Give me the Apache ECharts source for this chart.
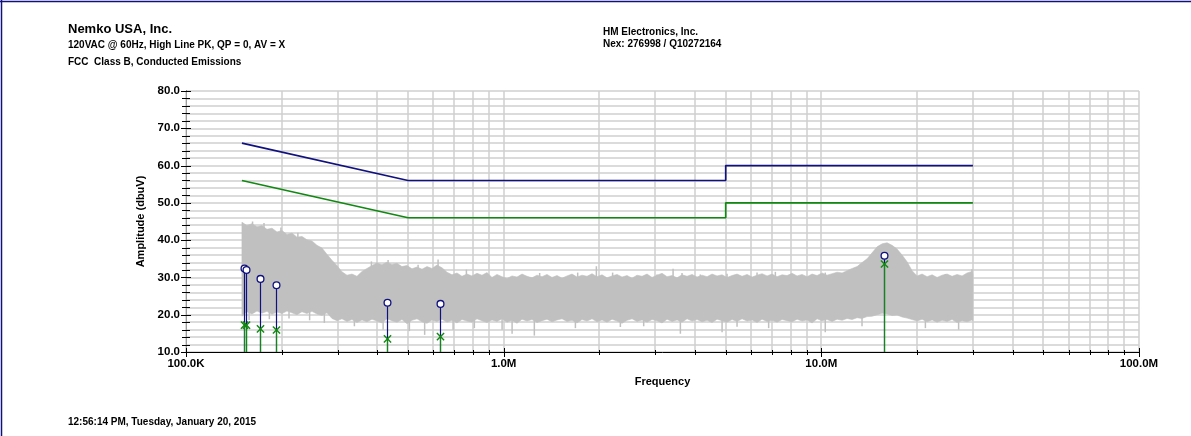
<!DOCTYPE html>
<html>
<head>
<meta charset="utf-8">
<script src="https://cdn.jsdelivr.net/npm/echarts@6/dist/echarts.min.js"></script>
<style>
html,body{margin:0;padding:0;background:#fff;}
#chart{width:1191px;height:436px;}
</style>
</head>
<body>
<div id="chart"></div>
<script>
// ---------- DATA ----------
const xTickLabels = ['100.0K', '1.0M', '10.0M', '100.0M'];
const xDecades = [1e5, 1e6, 1e7, 1e8];

// Limit lines (frequency in MHz)
const limitFreqMHz = [0.15, 0.5, 5, 5, 30];
const qpLimit = [66, 56, 56, 60, 60];
const avLimit = [56, 46, 46, 50, 50];

// Measured markers
const markerFreqMHz = [0.152, 0.155, 0.1715, 0.1926, 0.428, 0.630, 15.75];
const peakValues = [32.4, 32.0, 29.6, 27.9, 23.2, 22.9, 35.8];
const avgValues = [17.2, 17.2, 16.2, 15.9, 13.5, 14.1, 33.6];

// Spectrum scan envelope (MHz, dBuV)
const scanFreqMHz = [
  0.1500, 0.1555, 0.1613, 0.1673, 0.1734, 0.1798, 0.1865, 0.1934, 0.2005, 0.2079,
  0.2156, 0.2235, 0.2318, 0.2403, 0.2492, 0.2584, 0.2679, 0.2778, 0.2881, 0.2987,
  0.3097, 0.3212, 0.3330, 0.3453, 0.3581, 0.3713, 0.3850, 0.3992, 0.4139, 0.4292,
  0.4451, 0.4615, 0.4785, 0.4962, 0.5145, 0.5335, 0.5532, 0.5736, 0.5948, 0.6167,
  0.6395, 0.6631, 0.6876, 0.7130, 0.7393, 0.7666, 0.7949, 0.8242, 0.8546, 0.8862,
  0.9189, 0.9528, 0.9880, 1.0245, 1.0623, 1.1015, 1.1422, 1.1843, 1.2280, 1.2734,
  1.3204, 1.3691, 1.4197, 1.4721, 1.5264, 1.5828, 1.6412, 1.7018, 1.7646, 1.8298,
  1.8973, 1.9674, 2.0400, 2.1153, 2.1934, 2.2744, 2.3583, 2.4454, 2.5357, 2.6293,
  2.7263, 2.8270, 2.9313, 3.0395, 3.1517, 3.2681, 3.3887, 3.5138, 3.6435, 3.7780,
  3.9175, 4.0621, 4.2121, 4.3676, 4.5288, 4.6960, 4.8693, 5.0491, 5.2355, 5.4287,
  5.6291, 5.8369, 6.0524, 6.2758, 6.5075, 6.7477, 6.9968, 7.2551, 7.5229, 7.8006,
  8.0886, 8.3872, 8.6968, 9.0178, 9.3507, 9.6959, 10.054, 10.425, 10.810, 11.209,
  11.623, 12.052, 12.497, 12.958, 13.436, 13.932, 14.446, 14.979, 15.532, 16.105,
  16.700, 17.316, 17.955, 18.618, 19.305, 20.018, 20.757, 21.523, 22.318, 23.142,
  23.996, 24.882, 25.800, 26.752, 27.740, 28.764, 29.826, 30.0
];
const scanHigh = [
  44.8, 43.9, 44.4, 43.6, 43.9, 42.9, 43.2, 42.2, 42.6, 41.5,
  41.9, 40.8, 41.0, 40.1, 39.8, 38.6, 37.9, 36.2, 34.6, 33.2,
  31.5, 30.6, 30.9, 30.3, 31.6, 32.4, 33.2, 33.9, 33.4, 34.1,
  33.5, 33.8, 32.9, 33.2, 32.3, 32.8, 32.2, 32.9, 32.4, 33.3,
  32.6, 31.4, 30.7, 31.2, 30.3, 30.9, 30.4, 31.1, 30.6, 31.3,
  30.0, 30.8, 30.2, 29.7, 30.4, 30.1, 30.9, 30.3, 29.9, 30.6,
  30.2, 30.8, 30.0, 30.5, 29.8, 30.4, 30.9, 30.1, 30.6, 30.3,
  31.0, 30.2, 30.7, 29.9, 30.4, 30.8, 30.1, 30.5, 29.8, 30.6,
  30.3, 30.9, 30.0, 30.6, 31.1, 30.2, 30.5, 29.9, 30.7, 30.3,
  30.8, 30.1, 30.6, 30.2, 30.9, 30.4, 30.7, 30.0, 30.5, 30.9,
  30.3, 30.8, 30.1, 30.6, 31.0, 30.4, 30.9, 30.2, 30.7, 30.5,
  31.1, 30.4, 30.8, 30.2, 30.9, 30.5, 31.2, 30.6, 31.0, 31.4,
  31.2, 31.8, 32.4, 32.9, 34.0, 35.0, 36.6, 38.2, 39.0, 39.3,
  38.6, 37.6, 36.0, 34.2, 31.8, 30.4, 30.9, 30.2, 30.7, 30.0,
  30.6, 30.9, 30.3, 30.8, 30.4, 31.2, 31.6, 30.8
];
const scanLow = [
  19.6, 20.8, 20.2, 21.0, 20.4, 20.9, 20.1, 20.7, 20.3, 21.0,
  20.5, 20.0, 20.8, 20.3, 20.9, 20.2, 19.8, 20.5, 19.0, 18.4,
  18.9, 18.2, 18.7, 17.9, 18.6, 18.1, 18.8, 18.3, 17.8, 18.9,
  18.4, 18.0, 18.7, 17.6, 18.5, 18.9, 18.1, 17.7, 18.6, 18.2,
  18.8, 18.0, 18.5, 17.8, 18.7, 18.3, 18.0, 18.9, 18.4, 17.9,
  18.6, 18.2, 18.9, 18.0, 18.5, 17.7, 18.8, 18.3, 18.7, 17.9,
  18.4, 18.8, 18.1, 18.6, 18.9, 18.2, 18.5, 17.8, 18.7, 18.3,
  18.9, 18.1, 18.6, 18.0, 18.8, 18.3, 17.7, 18.5, 18.9, 18.2,
  18.6, 18.0, 18.7, 18.4, 17.8, 18.8, 18.2, 18.6, 18.0, 18.9,
  18.3, 18.7, 18.1, 18.5, 17.9, 18.8, 18.4, 18.0, 18.7, 18.2,
  18.9, 18.3, 18.6, 17.9, 18.8, 18.2, 18.5, 18.0, 18.7, 18.4,
  18.1, 18.8, 18.3, 18.6, 17.8, 18.9, 18.4, 18.7, 18.2, 18.8,
  18.5, 19.0, 18.7, 19.2, 19.0, 19.5, 19.6, 20.0, 20.4, 20.2,
  19.8, 19.9, 19.4, 19.1, 18.7, 18.3, 18.8, 18.1, 18.6, 18.0,
  18.5, 18.2, 18.7, 17.9, 18.4, 18.1, 18.6, 18.4
];

// Individual spikes of the scan (MHz, dBuV)
const upSpikeFreqMHz = [0.1620, 0.1760, 0.1990, 0.2250, 0.2707, 0.3834, 0.4327, 0.5378, 0.6216, 0.7633, 1.298, 1.710, 1.958, 2.203, 3.039, 3.414, 3.643, 4.160, 5.049, 6.275, 7.166, 10.29, 13.27, 24.57, 29.8];
const upSpikeValues = [45.0, 44.6, 43.4, 42.0, 36.5, 34.3, 34.7, 33.4, 34.8, 32.1, 31.2, 31.3, 33.0, 31.3, 30.8, 32.3, 31.2, 30.8, 31.0, 31.3, 31.5, 31.3, 33.2, 30.9, 32.2];
const downSpikeFreqMHz = [0.1580, 0.1830, 0.2110, 0.2450, 0.2726, 0.3389, 0.4174, 0.5049, 0.5640, 0.6930, 0.8086, 0.9886, 1.063, 1.249, 1.682, 2.330, 2.759, 3.600, 4.870, 5.428, 6.826, 10.29, 13.43, 21.26, 27.05];
const downSpikeValues = [18.6, 18.8, 19.0, 18.5, 17.8, 16.9, 16.0, 15.6, 14.6, 16.0, 16.4, 16.0, 14.9, 14.4, 16.4, 16.7, 16.9, 14.9, 15.3, 16.8, 16.4, 15.3, 16.9, 16.4, 16.0];

// ---------- CHART ----------
const NAVY = '#10107f';
const GREEN = '#118811';
const GRAY = '#c0c0c0';
const GRID = '#cfcfcf';
const FONT = '"Liberation Sans", Arial, sans-serif';

const gridFreqs = [];
for (let d = 0; d < 3; d++) {
  for (let m = 1; m <= 9; m++) gridFreqs.push(m * xDecades[d]);
}
gridFreqs.push(xDecades[3]);

const chart = echarts.init(document.getElementById('chart'), null, {renderer: 'canvas'});

const option = {
  animation: false,
  backgroundColor: '#ffffff',
  grid: {left: 186, top: 91, width: 953, height: 261, containLabel: false},
  xAxis: {
    type: 'log', logBase: 10, min: 1e5, max: 1e8,
    name: 'Frequency', nameLocation: 'middle', nameGap: 24,
    nameTextStyle: {fontFamily: FONT, fontWeight: 'bold', fontSize: 11, color: '#000'},
    axisLine: {show: true, lineStyle: {color: '#000', width: 1}},
    axisTick: {show: false},
    splitLine: {show: false},
    axisLabel: {
      fontFamily: FONT, fontWeight: 'bold', fontSize: 11.5, color: '#000', margin: 6,
      formatter: function (v) {
        const i = Math.round(Math.log10(v)) - 5;
        return xTickLabels[i] || '';
      }
    }
  },
  yAxis: {
    type: 'value', min: 10, max: 80, interval: 10,
    name: 'Amplitude (dbuV)', nameLocation: 'middle', nameGap: 38,
    nameTextStyle: {fontFamily: FONT, fontWeight: 'bold', fontSize: 11, color: '#000'},
    axisLine: {show: true, lineStyle: {color: '#000', width: 1}},
    axisTick: {show: false},
    minorTick: {show: false, splitNumber: 5},
    splitLine: {show: true, lineStyle: {color: GRID, width: 1.5}},
    minorSplitLine: {show: true, lineStyle: {color: GRID, width: 1.5}},
    axisLabel: {
      fontFamily: FONT, fontWeight: 'bold', fontSize: 11.5, color: '#000', margin: 6,
      formatter: function (v) { return v.toFixed(1); }
    }
  },
  graphic: [
    {type: 'line', shape: {x1: 0, y1: 1.5, x2: 1191, y2: 1.5}, style: {stroke: NAVY, lineWidth: 1.5}},
    {type: 'line', shape: {x1: 1.5, y1: 0, x2: 1.5, y2: 436}, style: {stroke: NAVY, lineWidth: 1.5}},
    {type: 'text', left: 68, top: 23, style: {text: 'Nemko USA, Inc.', font: 'bold 13px ' + FONT, fill: '#000'}},
    {type: 'text', left: 68, top: 40, style: {text: '120VAC @ 60Hz, High Line PK, QP = 0, AV = X', font: 'bold 10px ' + FONT, fill: '#000'}},
    {type: 'text', left: 68, top: 57, style: {text: 'FCC  Class B, Conducted Emissions', font: 'bold 10px ' + FONT, fill: '#000'}},
    {type: 'text', left: 603, top: 27, style: {text: 'HM Electronics, Inc.', font: 'bold 10px ' + FONT, fill: '#000'}},
    {type: 'text', left: 603, top: 39, style: {text: 'Nex: 276998 / Q10272164', font: 'bold 10px ' + FONT, fill: '#000'}},
    {type: 'text', left: 68, top: 417, style: {text: '12:56:14 PM, Tuesday, January 20, 2015', font: 'bold 10px ' + FONT, fill: '#000'}}
  ],
  series: [
    // vertical grid lines on the log axis
    {
      type: 'custom', z: 1, silent: true, clip: false,
      data: [[1e6, 50]],
      renderItem: function (params, api) {
        const children = gridFreqs.map(function (f) {
          const a = api.coord([f, 10]);
          const b = api.coord([f, 80]);
          const x = Math.round(a[0]);
          return {type: 'line', shape: {x1: x, y1: a[1], x2: x, y2: b[1]}, style: {stroke: GRID, lineWidth: 1.5}};
        });
        return {type: 'group', children: children};
      }
    },
    // spectrum scan
    {
      type: 'custom', z: 2, silent: true, clip: true,
      data: [[1e6, 30]],
      renderItem: function (params, api) {
        const pts = [];
        for (let i = 0; i < scanFreqMHz.length; i++) pts.push(api.coord([scanFreqMHz[i] * 1e6, scanHigh[i]]));
        for (let i = scanFreqMHz.length - 1; i >= 0; i--) pts.push(api.coord([scanFreqMHz[i] * 1e6, scanLow[i]]));
        const children = [{type: 'polygon', shape: {points: pts}, style: {fill: GRAY, stroke: GRAY, lineWidth: 0.6}}];
        for (let i = 0; i < upSpikeFreqMHz.length; i++) {
          const a = api.coord([upSpikeFreqMHz[i] * 1e6, upSpikeValues[i]]);
          const b = api.coord([upSpikeFreqMHz[i] * 1e6, 26]);
          children.push({type: 'line', shape: {x1: a[0], y1: a[1], x2: b[0], y2: b[1]}, style: {stroke: GRAY, lineWidth: 1.5}});
        }
        for (let i = 0; i < downSpikeFreqMHz.length; i++) {
          const a = api.coord([downSpikeFreqMHz[i] * 1e6, downSpikeValues[i]]);
          const b = api.coord([downSpikeFreqMHz[i] * 1e6, 24]);
          children.push({type: 'line', shape: {x1: a[0], y1: a[1], x2: b[0], y2: b[1]}, style: {stroke: GRAY, lineWidth: 1.5}});
        }
        return {type: 'group', children: children};
      }
    },
    // limit lines
    {
      type: 'line', z: 3, silent: true, symbol: 'none',
      lineStyle: {color: NAVY, width: 1.7},
      data: limitFreqMHz.map(function (f, i) { return [f * 1e6, qpLimit[i]]; })
    },
    {
      type: 'line', z: 3, silent: true, symbol: 'none',
      lineStyle: {color: GREEN, width: 1.7},
      data: limitFreqMHz.map(function (f, i) { return [f * 1e6, avLimit[i]]; })
    },
    // marker stems and symbols
    {
      type: 'custom', z: 4, silent: true, clip: false,
      data: markerFreqMHz.map(function (f, i) { return [f * 1e6, peakValues[i], avgValues[i]]; }),
      renderItem: function (params, api) {
        const f = api.value(0);
        const base = api.coord([f, 10]);
        const pk = api.coord([f, api.value(1)]);
        const av = api.coord([f, api.value(2)]);
        const x = Math.round(base[0]) + 0.5;
        const s = 3.6;
        return {
          type: 'group',
          children: [
            {type: 'line', shape: {x1: x, y1: base[1], x2: x, y2: pk[1]}, style: {stroke: NAVY, lineWidth: 1.2}},
            {type: 'line', shape: {x1: x, y1: base[1], x2: x, y2: av[1]}, style: {stroke: GREEN, lineWidth: 1.2}},
            {type: 'line', shape: {x1: x - s, y1: av[1] - s, x2: x + s, y2: av[1] + s}, style: {stroke: GREEN, lineWidth: 1.4}},
            {type: 'line', shape: {x1: x - s, y1: av[1] + s, x2: x + s, y2: av[1] - s}, style: {stroke: GREEN, lineWidth: 1.4}},
            {type: 'circle', shape: {cx: x, cy: pk[1], r: 3.4}, style: {fill: '#fff', stroke: NAVY, lineWidth: 1.3}}
          ]
        };
      }
    },
    // axis tick marks
    {
      type: 'custom', z: 6, silent: true, clip: false,
      data: [[1e6, 50]],
      renderItem: function (params, api) {
        const children = [];
        gridFreqs.forEach(function (f) {
          const p = api.coord([f, 10]);
          const major = xDecades.indexOf(f) >= 0;
          const x = Math.round(p[0]) + 0.5;
          children.push({type: 'line', shape: {x1: x, y1: p[1] - (major ? 4 : 2), x2: x, y2: p[1] + (major ? 5 : 3)}, style: {stroke: '#000', lineWidth: 1}});
        });
        for (let v = 10; v <= 80; v += 2) {
          const p = api.coord([1e5, v]);
          const major = v % 10 === 0;
          const y = Math.round(p[1]) + 0.5;
          children.push({type: 'line', shape: {x1: p[0] - (major ? 5 : 4), y1: y, x2: p[0] + (major ? 5 : 4), y2: y}, style: {stroke: '#000', lineWidth: 1}});
        }
        return {type: 'group', children: children};
      }
    }
  ]
};
chart.setOption(option);
</script>
</body>
</html>
